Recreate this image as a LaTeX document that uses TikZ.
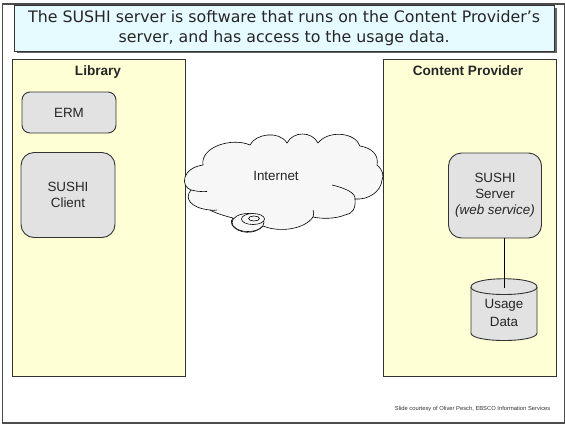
\documentclass[tikz,border=0pt]{standalone}
\usepackage{fontspec}
\setmainfont{Liberation Sans}
\newfontfamily\titlefont{DejaVu Sans}
\usetikzlibrary{shapes.geometric}
\definecolor{zone}{HTML}{FFFFD6}
\definecolor{boxg}{HTML}{E2E2E2}
\definecolor{ttl}{HTML}{E6FBFF}
\definecolor{edge}{HTML}{333333}
\tikzset{
 x=1pt,y=-1pt,
 zonebox/.style={draw=edge,fill=zone,line width=.9pt,anchor=north west,inner sep=0pt},
 appbox/.style={draw=edge,fill=boxg,line width=.9pt,rounded corners=8pt,inner sep=0pt,align=center,font=\fontsize{13.4}{15.8}\selectfont,text=black!85},
 head/.style={font=\fontsize{13.6}{15}\selectfont\bfseries,text=black!85},
 cloudline/.style={draw=black,line width=.6pt}
}
\begin{document}
\begin{tikzpicture}
\useasboundingbox (0,0) rectangle (565,424);
\fill[white] (0,0) rectangle (565,424);
\node[draw=black!70,line width=1.6pt,minimum width=562pt,minimum height=419pt,inner sep=0pt,anchor=north west] (frame) at (1.5,3) {};
% title
\fill[black!60] (17,8) rectangle (556.5,53);
\node[draw=black!80,fill=ttl,line width=.9pt,minimum width=540pt,minimum height=46pt,inner sep=0pt,anchor=north west,align=center,font=\titlefont\fontsize{15.8}{19.5}\selectfont,text=black!85] (title) at (13.7,4.5) {The SUSHI server is software that runs on the Content Provider’s\\server, and has access to the usage data.};
% zones
\node[zonebox,minimum width=173pt,minimum height=317pt] (lib) at (12,59) {};
\node[zonebox,minimum width=173pt,minimum height=317pt] (cp) at (383,59) {};
\node[head] (libt) at (98,71.5) {Library};
\node[head] (cpt) at (468,71) {Content Provider};
% boxes
\node[appbox,minimum width=94pt,minimum height=41pt] (erm) at (69,112.5) {ERM};
\node[appbox,rounded corners=13pt,minimum width=94pt,minimum height=85pt] (client) at (68,195) {SUSHI\\Client};
\node[appbox,rounded corners=13pt,minimum width=93pt,minimum height=85pt] (srv) at (495,195.5) {SUSHI\\Server\\\textit{(web service)}};
% cylinder
\draw[draw=edge,fill=boxg,line width=.9pt] (471,287) -- (471,333) .. controls (471,343) and (537,343) .. (537,333) -- (537,287) .. controls (537,276) and (471,276) .. (471,287) -- cycle;
\draw[draw=edge,line width=.9pt] (471,287) .. controls (471,297) and (537,297) .. (537,287);
\coordinate (dbtop) at (504.5,288);
\draw[black,line width=.8pt] (srv.south -| dbtop) -- (dbtop);
\node[font=\fontsize{13.4}{17.5}\selectfont,align=center,text=black!85] (db) at (504,313) {Usage\\Data};
% cloud
\draw[cloudline,fill=black!3]
 (203,165) .. controls (200,147) and (232,137) .. (250,145)
 .. controls (255,134) and (279,130) .. (287,143)
 .. controls (293,131) and (312,131) .. (318,143)
 .. controls (328,130) and (355,132) .. (360,146)
 .. controls (372,148) and (379,155) .. (377,165)
 .. controls (383,170) and (384,176) .. (382,180)
 .. controls (381,192) and (368,200) .. (355,199)
 .. controls (356,209) and (352,214) .. (345,215)
 .. controls (335,219) and (322,219) .. (313,217)
 .. controls (305,229) and (280,233) .. (263,226)
 .. controls (255,235) and (238,234) .. (232,225)
 .. controls (231,222) and (231,220) .. (233,218)
 .. controls (225,216) and (215,213) .. (210,210)
 .. controls (190,208) and (184,198) .. (191,190)
 .. controls (180,186) and (182,168) .. (203,165) -- cycle;
\draw[cloudline] (191,190) .. controls (195,191) and (201,192) .. (207,191.5);
\draw[cloudline] (210,210) .. controls (212,210.5) and (215,210.5) .. (217,210);
\draw[cloudline] (332,185) .. controls (345,188) and (356,193) .. (355,199);
\draw[cloudline] (313,217) .. controls (314,214) and (314,212) .. (313,210);
% washer
\draw[cloudline,fill=black!3] (248,222.5) ellipse (16 and 9);
\draw[cloudline,fill=black!3] (253,219) ellipse (11.5 and 5.5);
\draw[cloudline,fill=black!3] (254,218.5) ellipse (5.5 and 2.5);
\node[font=\fontsize{13.4}{15}\selectfont,text=black!85] (net) at (276,176) {Internet};
\node[font=\fontsize{5.8}{7}\selectfont,text=black!80,anchor=east,inner sep=0pt] (credit) at (550.5,409) {Slide courtesy of Oliver Pesch, EBSCO Information Services};
\end{tikzpicture}
\end{document}
